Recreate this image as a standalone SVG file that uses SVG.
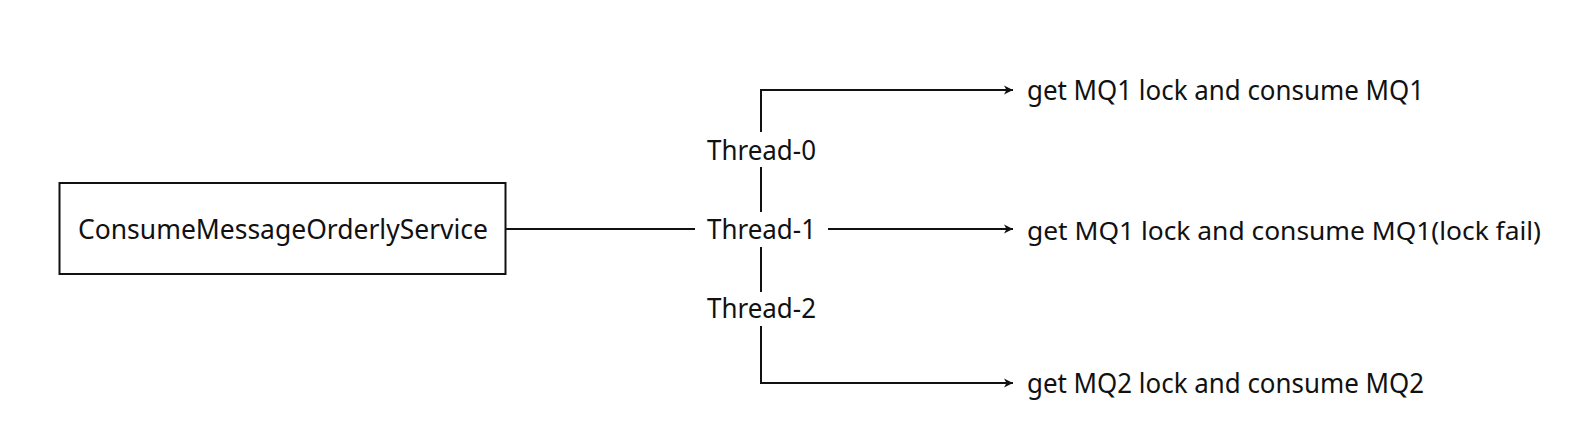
<svg xmlns="http://www.w3.org/2000/svg" width="1575" height="442" viewBox="0 0 1575 442">
<style>
text{font-family:"Noto Sans","Liberation Sans",sans-serif;font-size:28px;fill:#111}
.ln{stroke:#111;stroke-width:2;fill:none}
</style>
<defs>
<marker id="ah" viewBox="0 0 10 10" refX="10" refY="5" markerWidth="10" markerHeight="10" markerUnits="userSpaceOnUse" orient="auto"><path d="M1,0.5 L10,5 L1,9.5 L3.5,5 Z" fill="#111"/></marker>
</defs>
<rect width="1575" height="442" fill="#fff"/>
<g id="node-service">
<rect x="59.5" y="183" width="446" height="91" fill="#fff" stroke="#111" stroke-width="2"/>
<text x="78" y="239" textLength="410" lengthAdjust="spacingAndGlyphs">ConsumeMessageOrderlyService</text>
</g>
<g id="node-thread0"><text x="707" y="160" textLength="109" lengthAdjust="spacingAndGlyphs">Thread-0</text></g>
<g id="node-thread1"><text x="707" y="239" textLength="109" lengthAdjust="spacingAndGlyphs">Thread-1</text></g>
<g id="node-thread2"><text x="707" y="318" textLength="109" lengthAdjust="spacingAndGlyphs">Thread-2</text></g>
<g id="node-mq1"><text x="1027" y="100" textLength="397" lengthAdjust="spacingAndGlyphs">get MQ1 lock and consume MQ1</text></g>
<g id="node-mq1fail"><text x="1027" y="240" textLength="514" lengthAdjust="spacingAndGlyphs" style="font-size:26px">get MQ1 lock and consume MQ1(lock fail)</text></g>
<g id="node-mq2"><text x="1027" y="393" textLength="397" lengthAdjust="spacingAndGlyphs">get MQ2 lock and consume MQ2</text></g>
<g id="connectors">
<line class="ln" x1="506" y1="229" x2="695" y2="229" stroke-width="3"/>
<path class="ln" d="M761,132 V90 H1013" marker-end="url(#ah)"/>
<line class="ln" x1="761" y1="167" x2="761" y2="212"/>
<line class="ln" x1="761" y1="247" x2="761" y2="292"/>
<path class="ln" d="M761,326 V383 H1013" marker-end="url(#ah)"/>
<line class="ln" x1="828" y1="229" x2="1013" y2="229" marker-end="url(#ah)"/>
</g>
</svg>
